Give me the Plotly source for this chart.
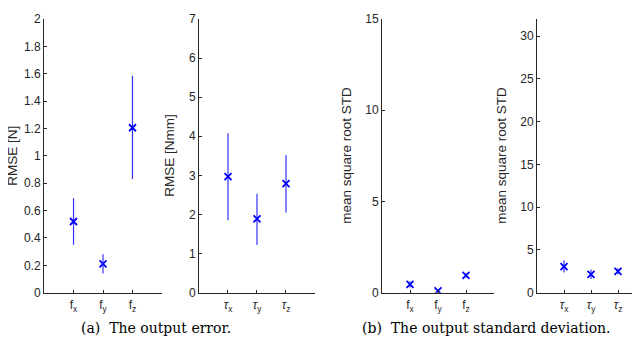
import plotly.graph_objects as go

# datos
f_labels = ["f<sub>x</sub>", "f<sub>y</sub>", "f<sub>z</sub>"]
tau_labels = ["<i>τ</i><sub>x</sub>", "<i>τ</i><sub>y</sub>", "<i>τ</i><sub>z</sub>"]

rmse_f = [0.52, 0.21, 1.205]
rmse_f_lo = [0.35, 0.14, 0.83]
rmse_f_hi = [0.69, 0.28, 1.585]

rmse_tau = [2.97, 1.89, 2.79]
rmse_tau_lo = [1.85, 1.22, 2.05]
rmse_tau_hi = [4.08, 2.53, 3.52]

std_f = [0.45, 0.10, 0.95]
std_f_lo = [0.28, 0.04, 0.83]
std_f_hi = [0.62, 0.16, 1.07]

std_tau = [3.05, 2.15, 2.50]
std_tau_lo = [2.35, 1.60, 2.15]
std_tau_hi = [3.80, 2.70, 2.85]

BLUE = "#0000ff"
GRAY = "#262626"
YDOM = [0.156, 0.988]

panels = [
    (f_labels, rmse_f, rmse_f_lo, rmse_f_hi, [0.0563, 0.2406], [0, 2], 0.2, "RMSE [N]", 5),
    (tau_labels, rmse_tau, rmse_tau_lo, rmse_tau_hi, [0.2984, 0.4797], [0, 7], 1, "RMSE [Nmm]", 162),
    (f_labels, std_f, std_f_lo, std_f_hi, [0.5844, 0.7594], [0, 15], 5, "mean square root STD", 339),
    (tau_labels, std_tau, std_tau_lo, std_tau_hi, [0.8266, 0.9953], [0, 32], 5, "mean square root STD", 494),
]

fig = go.Figure()
for i, (labels, vals, lo, hi, dom, yr, dt, ytitle, tx) in enumerate(panels):
    n = "" if i == 0 else str(i + 1)
    fig.add_trace(go.Scatter(
        x=[1, 2, 3], y=vals, mode="markers",
        marker=dict(symbol="x-thin", size=7, line=dict(width=1.8, color=BLUE), color=BLUE),
        error_y=dict(type="data", symmetric=False,
                     array=[h - v for h, v in zip(hi, vals)],
                     arrayminus=[v - l for v, l in zip(vals, lo)],
                     color="#3333ff", thickness=1.2, width=0),
        xaxis="x" + n, yaxis="y" + n, showlegend=False))
    fig.layout["xaxis" + n] = dict(
        domain=dom, range=[0, 4], anchor="y" + n,
        tickvals=[1, 2, 3], ticktext=labels, ticks="inside", ticklen=3,
        tickcolor=GRAY, showline=True, linecolor=GRAY, linewidth=1,
        showgrid=False, zeroline=False, ticklabelstandoff=1,
        tickfont=dict(family="Liberation Sans, Arial", size=12, color=GRAY))
    fig.layout["yaxis" + n] = dict(
        domain=YDOM, range=yr, dtick=dt, anchor="x" + n,
        ticks="inside", ticklen=3, tickcolor=GRAY,
        showline=True, linecolor=GRAY, linewidth=1,
        showgrid=False, zeroline=False, ticklabeloverflow="allow",
        tickfont=dict(family="Liberation Sans, Arial", size=12, color=GRAY))
    # titulo eje y
    fig.add_annotation(text=ytitle, x=tx / 640, y=(YDOM[0] + YDOM[1]) / 2,
                       xref="paper", yref="paper", showarrow=False, textangle=-90,
                       xanchor="center", yanchor="middle",
                       font=dict(family="Liberation Sans, Arial", size=13.5, color=GRAY))

fig.add_annotation(text="(a)  The output error.", x=0.111, y=0.017,
                   xref="paper", yref="paper", showarrow=False, xanchor="left",
                   font=dict(family="DejaVu Serif", size=14, color="black"))
fig.add_annotation(text="(b)  The output standard deviation.", x=0.55, y=0.017,
                   xref="paper", yref="paper", showarrow=False, xanchor="left",
                   font=dict(family="DejaVu Serif", size=14, color="black"))

fig.update_layout(width=640, height=343, margin=dict(l=0, r=0, t=0, b=0),
                  plot_bgcolor="white", paper_bgcolor="white")
fig.write_html("out.html")
